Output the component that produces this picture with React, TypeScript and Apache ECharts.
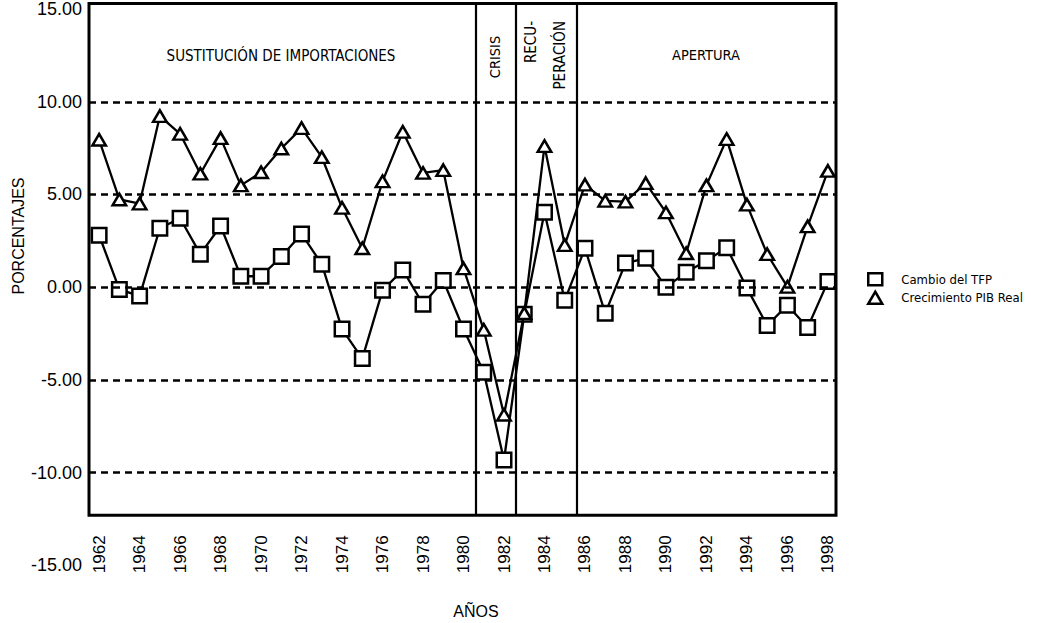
import React, { useEffect, useRef } from "react";
import * as echarts from "echarts";

const years = [
  1962, 1963, 1964, 1965, 1966, 1967, 1968, 1969, 1970, 1971, 1972, 1973, 1974,
  1975, 1976, 1977, 1978, 1979, 1980, 1981, 1982, 1983, 1984, 1985, 1986,
  1987, 1988, 1989, 1990, 1991, 1992, 1993, 1994, 1995, 1996, 1997, 1998,
];

const cambioTFP = [
  2.8, -0.12, -0.48, 3.18, 3.72, 1.78, 3.3, 0.59, 0.59, 1.65, 2.87, 1.24, -2.26,
  -3.85, -0.17, 0.93, -0.92, 0.36, -2.26, -4.59, -9.32, -1.46, 4.04, -0.71, 2.1,
  -1.41, 1.3, 1.56, 0.0, 0.8, 1.42, 2.13, -0.05, -2.07, -0.97, -2.17, 0.3,
];

const crecimientoPIB = [
  7.95, 4.73, 4.51, 9.23, 8.27, 6.12, 8.04, 5.49, 6.2, 7.48, 8.58, 7.01, 4.28,
  2.1, 5.71, 8.38, 6.16, 6.31, 1.01, -2.3, -6.88, -1.4, 7.61, 2.27, 5.53,
  4.66, 4.61, 5.61, 4.03, 1.83, 5.49, 7.99, 4.45, 1.78, 0.02, 3.28, 6.27,
];

const xLabelYears = [
  1962, 1964, 1966, 1968, 1970, 1972, 1974, 1976, 1978, 1980, 1982, 1984, 1986,
  1988, 1990, 1992, 1994, 1996, 1998,
];

const dashedLevels = [10, 5, 0, -5, -10];
const periodBoundaries = [1980.6, 1982.6, 1985.6];

const seriesNames = ["Cambio del TFP", "Crecimiento PIB Real"];

const X_MIN = 1961.5;
const X_MAX = 1998.4;
const Y_MIN = -15;
const Y_MAX = 15.3;
const FRAME_BOTTOM = -12.3;

const NARROW = "'Liberation Sans Narrow', 'Arial Narrow', 'DejaVu Sans Condensed', sans-serif";
const REGULAR = "'Liberation Sans', Arial, sans-serif";

function label(text: string, x: number, y: number, size: number, family: string, rotated = false, align = "center") {
  return {
    type: "text",
    x,
    y,
    rotation: rotated ? Math.PI / 2 : 0,
    style: {
      text,
      font: `${size}px ${family}`,
      fill: "#000",
      align,
      verticalAlign: "middle",
      textAlign: align,
      textVerticalAlign: "middle",
    },
  };
}

export default function App() {
  const ref = useRef<HTMLDivElement>(null);

  useEffect(() => {
    if (!ref.current) return;
    const chart = echarts.init(ref.current, undefined, { renderer: "svg" });

    const tfpData = years.map((y, i) => [y, cambioTFP[i]]);
    const pibData = years.map((y, i) => [y, crecimientoPIB[i]]);

    const option: any = {
      animation: false,
      backgroundColor: "#fff",
      grid: {
        left: 89,
        right: 205,
        top: 3.5,
        bottom: 57.7,
        containLabel: false,
        outerBoundsMode: "none",
      },
      legend: {
        orient: "vertical",
        left: 862,
        top: 267,
        itemWidth: 14,
        itemHeight: 12,
        itemGap: 4,
        data: [
          { name: seriesNames[0], icon: "rect" },
          { name: seriesNames[1], icon: "triangle" },
        ],
        itemStyle: { color: "#fff", borderColor: "#000", borderWidth: 2.5 },
        textStyle: {
          fontFamily: NARROW,
          fontSize: 13,
          color: "#000",
          padding: [0, 0, 0, 14],
        },
        selectedMode: false,
      },
      xAxis: {
        type: "value",
        min: X_MIN,
        max: X_MAX,
        offset: -50,
        axisLine: { show: false },
        axisTick: { show: false },
        splitLine: { show: false },
        axisLabel: {
          customValues: xLabelYears,
          rotate: 90,
          margin: 20,
          fontFamily: REGULAR,
          fontSize: 17,
          color: "#000",
          formatter: (v: number) => String(v),
        },
      },
      yAxis: {
        type: "value",
        min: Y_MIN,
        max: Y_MAX,
        interval: 5,
        axisLine: { show: false },
        axisTick: { show: false },
        splitLine: { show: false },
        axisLabel: {
          margin: 7,
          fontFamily: REGULAR,
          fontSize: 18,
          color: "#000",
          formatter: (v: number) =>
            Math.abs(v % 5) < 1e-9 ? v.toFixed(2) : "",
        },
      },
      series: [
        {
          name: seriesNames[0],
          type: "line",
          data: tfpData,
          symbol: "rect",
          symbolSize: 14.5,
          lineStyle: { color: "#000", width: 2.3 },
          itemStyle: { color: "#fff", borderColor: "#000", borderWidth: 2.5 },
          z: 3,
          markArea: {
            silent: true,
            itemStyle: {
              color: "rgba(0,0,0,0)",
              borderColor: "#000",
              borderWidth: 3,
            },
            data: [[{ coord: [X_MIN, Y_MAX] }, { coord: [X_MAX, FRAME_BOTTOM] }]],
          },
          markLine: {
            silent: true,
            symbol: ["none", "none"],
            label: { show: false },
            data: [
              ...dashedLevels.map((v) => ({
                yAxis: v,
                lineStyle: { color: "#000", width: 2.5, type: [7, 5] },
              })),
              ...periodBoundaries.map((x) => [
                { coord: [x, Y_MAX], lineStyle: { color: "#000", width: 2.2, type: "solid" } },
                { coord: [x, FRAME_BOTTOM] },
              ]),
            ],
          },
        },
        {
          name: seriesNames[1],
          type: "line",
          data: pibData,
          symbol: "triangle",
          symbolSize: [13.5, 11.5],
          lineStyle: { color: "#000", width: 2.3 },
          itemStyle: { color: "#fff", borderColor: "#000", borderWidth: 2.5 },
          z: 4,
        },
      ],
      graphic: [
        label("SUSTITUCIÓN DE IMPORTACIONES", 281, 56, 15, NARROW),
        label("APERTURA", 706, 55, 14.5, NARROW),
        label("CRISIS", 495, 57, 14.5, NARROW, true),
        label("RECU-", 531, 21, 15, NARROW, true, "right"),
        label("PERACIÓN", 560, 21, 15, NARROW, true, "right"),
        label("PORCENTAJES", 18, 236, 16, REGULAR, true),
        label("AÑOS", 476, 611, 16, REGULAR),
      ],
    };

    chart.setOption(option);
    return () => chart.dispose();
  }, []);

  return (
    <div
      ref={ref}
      style={{ position: "fixed", left: 0, top: 0, width: 1041, height: 623, background: "#fff" }}
    />
  );
}
